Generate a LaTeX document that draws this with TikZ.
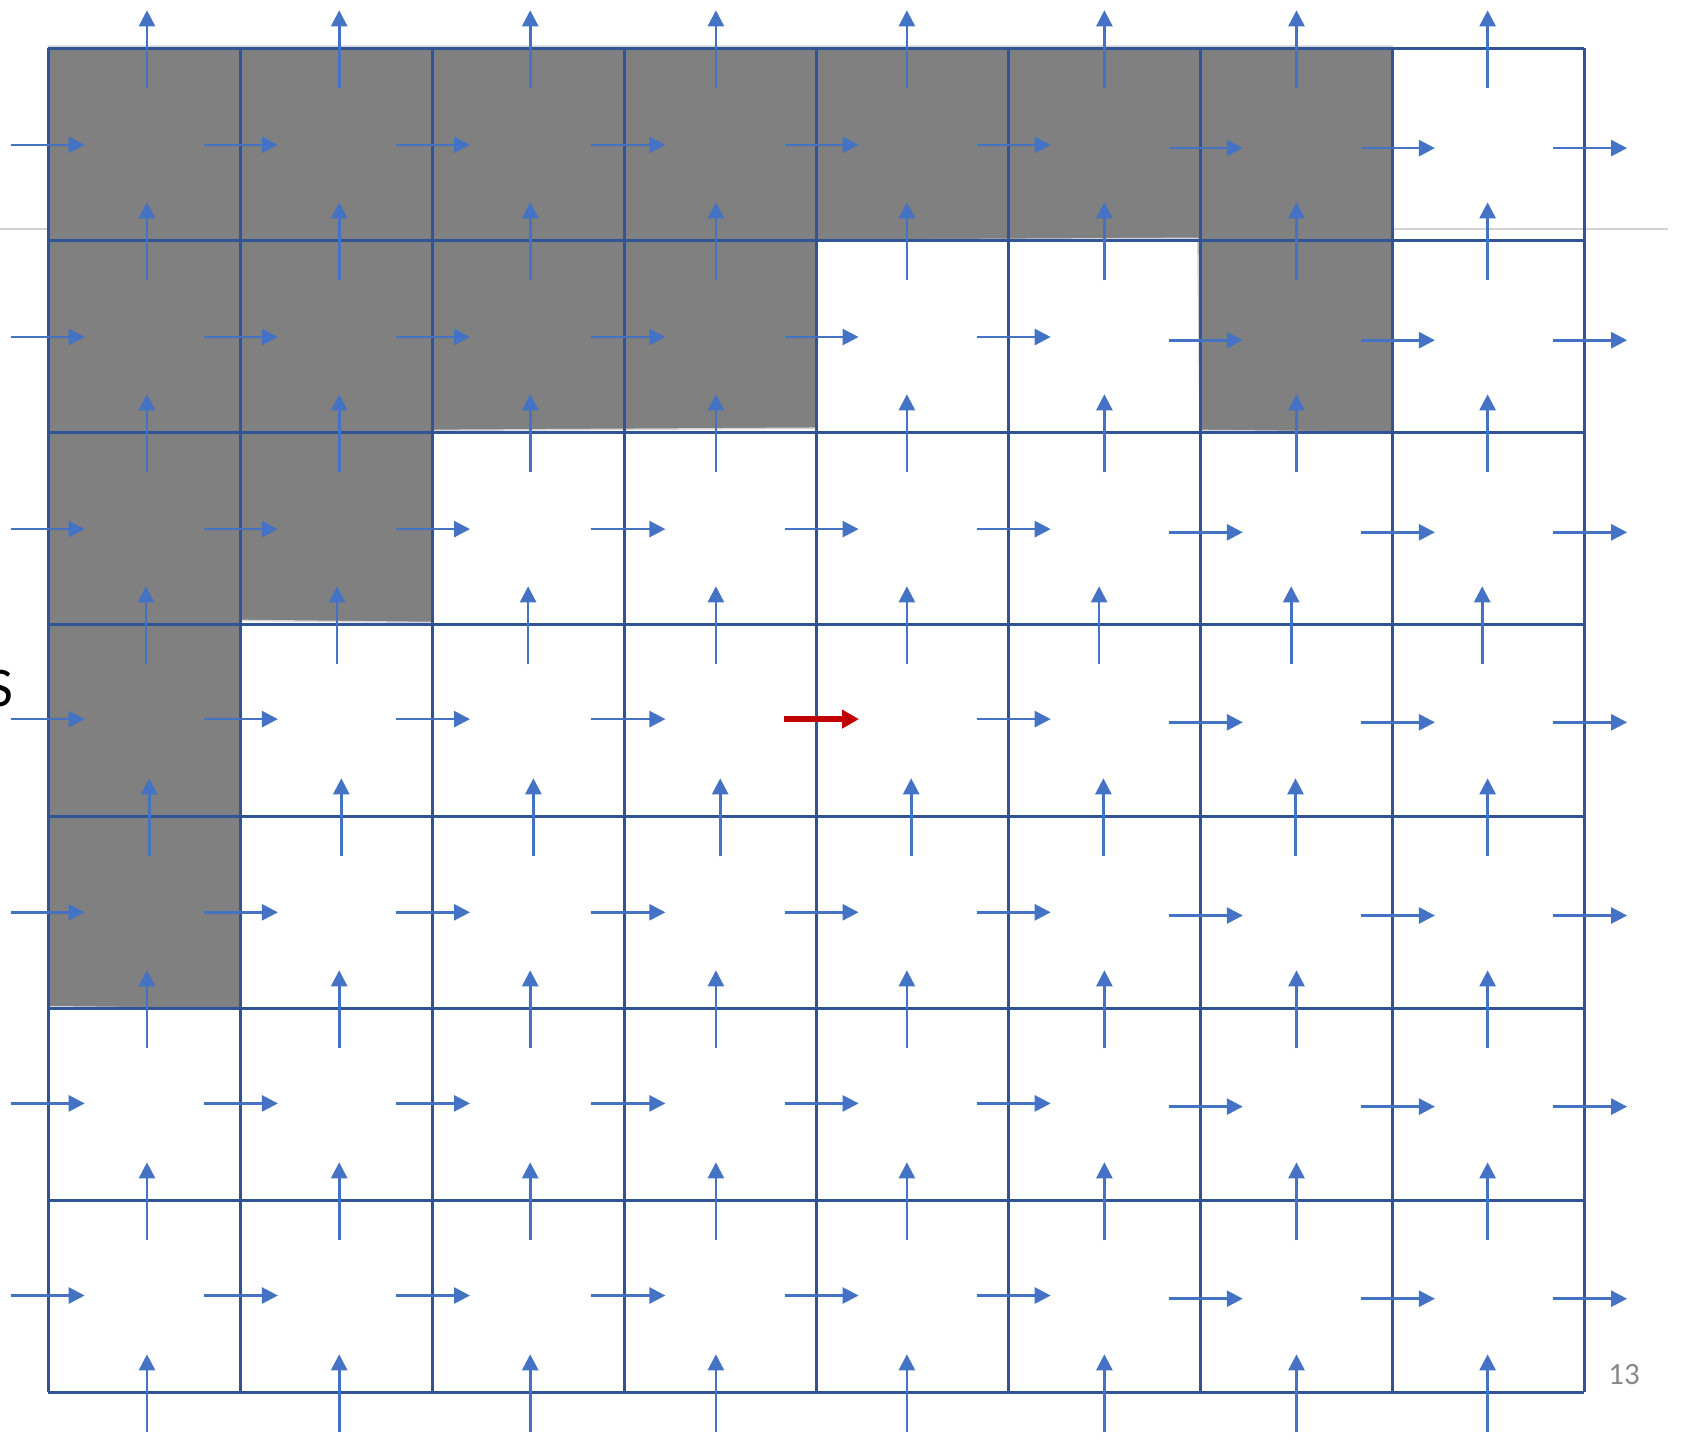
\documentclass[tikz,border=0pt]{standalone}
\usepackage{fontspec}
\newfontfamily\cfont{Carlito}
\usetikzlibrary{arrows.meta}
\definecolor{gridblue}{RGB}{47,85,151}
\definecolor{arrblue}{RGB}{68,114,196}
\definecolor{arrred}{RGB}{192,0,0}
\definecolor{shade}{RGB}{128,128,128}
\definecolor{rulegray}{RGB}{212,212,212}
\definecolor{numgray}{RGB}{137,137,137}
\def\vxA{147.0,339.2,530.2,715.9,906.9,1104.4,1296.5,1487.6}
\def\vxB{146.0,337.0,528.1,715.9,906.9,1099.1,1291.2,1482.2}
\def\vxC{149.2,341.3,533.4,720.2,911.2,1103.4,1295.5,1487.6}
\begin{document}
\begin{tikzpicture}[x=1pt,y=-1pt,
  gridline/.style={draw=gridblue,line width=2.6pt},
  flowarrow/.style={draw=arrblue,line width=2.6pt,-{Triangle[length=16pt,width=16pt]}},
  redarrow/.style={draw=arrred,line width=5.5pt,-{Triangle[length=17pt,width=18pt]}},
  shaded/.style={fill=shade,draw=rulegray,line width=1.5pt},
  rule/.style={draw=rulegray,line width=2pt},
  bigletter/.style={inner sep=0pt,font=\cfont\fontsize{56}{60}\selectfont,text=black},
  pagenum/.style={inner sep=0pt,font=\cfont\fontsize{31}{34}\selectfont,text=numgray}]
\useasboundingbox (0,0) rectangle (1683,1440);
\fill[white] (0,0) rectangle (1683,1440);
% slide rule behind the grid
\draw[rule] (0,228.7) -- (1668,228.7);
% blocked (gray) region
\path[shaded] (48.3,46.2) -- (1392.1,46.2) -- (1392.1,432.5) -- (1200,430.4)
  -- (1197.8,238.3) -- (816.8,240.4) -- (816.8,428.2) -- (432.5,430.4)
  -- (432.5,622.5) -- (240.4,620.4) -- (240.4,1008.9) -- (48.3,1006.7) -- cycle;
% grid
\foreach \i in {0,...,8} \draw[gridline] ({48.3+192*\i},48.3) -- ({48.3+192*\i},1392.3);
\foreach \j in {0,...,7} \draw[gridline] (48.3,{48.3+192*\j}) -- (1584.3,{48.3+192*\j});
% horizontal arrows
\foreach \sx [count=\i from 0] in {10.7,203.9,396.0,591.4,784.6,976.7,1168.8,1360.9,1553.1} {
  \foreach \cy [count=\j from 0] in {144.9,337.0,529.1,719.1,912.3,1103.4,1295.5} {
    \pgfmathsetmacro\dy{\i>5 ? 3.2 : 0}
    \pgfmathtruncatemacro\skipit{(\i==4 && \j==3) ? 1 : 0}
    \ifnum\skipit=0
      \draw[flowarrow] (\sx,{\cy+\dy}) -- ({\sx+74},{\cy+\dy});
    \fi
  }
}
% vertical arrows
\foreach \k in {0,...,7} {
  \ifnum\k=3 \let\xs\vxB\else\ifnum\k=4 \let\xs\vxC\else\let\xs\vxA\fi\fi
  \foreach \x in \xs {
    \draw[flowarrow] (\x,{48.3+192*\k+40}) -- (\x,{48.3+192*\k-38});
  }
}
% highlighted arrow
\coordinate (redstart) at (784.3,719.1);
\coordinate (redend) at (859,719.1);
\draw[redarrow] (redstart) -- (redend);
% texts
\node[bigletter,anchor=base east] (sletter) at (13,706) {S};
\node[pagenum,anchor=base east] (pgnum) at (1640,1384) {13};
\end{tikzpicture}
\end{document}
